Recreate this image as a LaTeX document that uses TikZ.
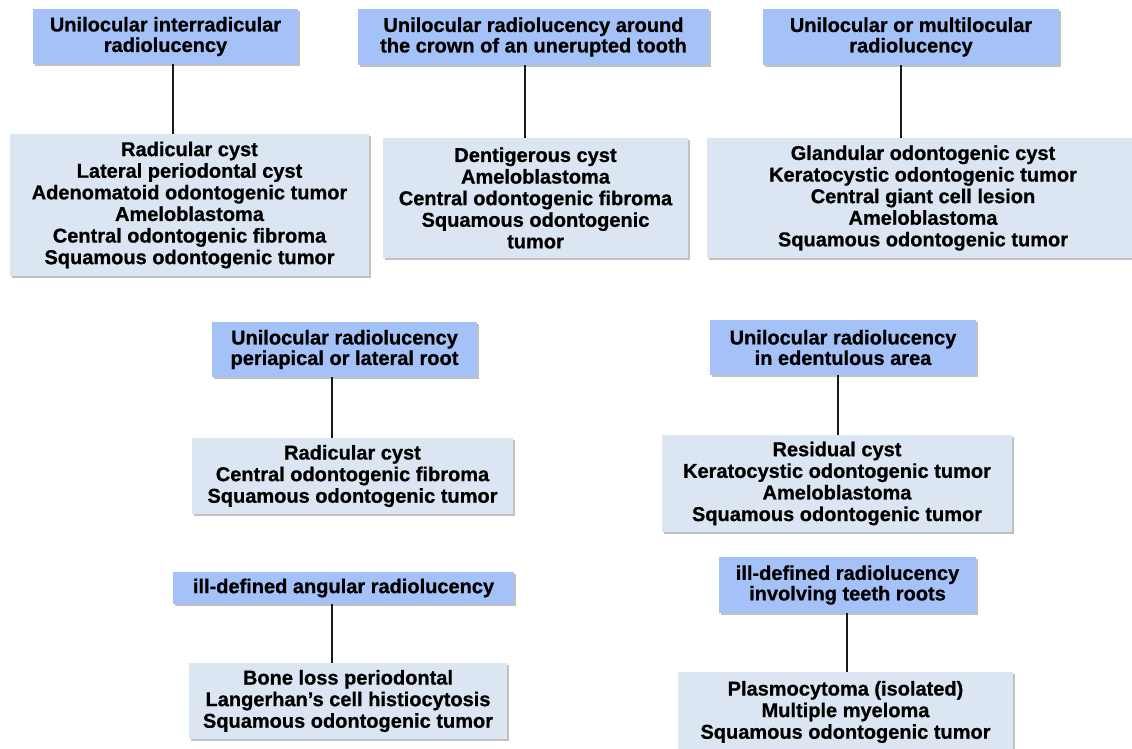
\documentclass[tikz,border=0pt]{standalone}
\usepackage{fontspec}
\setmainfont{Liberation Sans}[BoldFeatures={FakeBold=0.8}]
\usetikzlibrary{shadows}
\definecolor{hdrblue}{HTML}{A4C2F7}
\definecolor{bodyblue}{HTML}{DCE6F2}
\tikzset{
  boxbase/.style={inner sep=0pt, align=center, font=\fontsize{20}{20.5}\selectfont\bfseries,
    text=black, drop shadow={shadow xshift=1.5pt, shadow yshift=-2pt, opacity=0.35, fill=black!70}},
  hdr/.style={boxbase, fill=hdrblue},
  bodybox/.style={boxbase, fill=bodyblue, font=\fontsize{20}{21.6}\selectfont\bfseries},
  link/.style={draw=black!90, line width=1.8pt}
}
\begin{document}
\begin{tikzpicture}[x=1pt,y=1pt]
\useasboundingbox (0,0) rectangle (1132,-748);
% row 1
\node[hdr, minimum width=265pt, minimum height=55pt] (H1) at (165.5,-36.5) {Unilocular interradicular\\radiolucency};
\node[bodybox, minimum width=359pt, minimum height=142pt] (B1) at (189.5,-205) {Radicular cyst\\Lateral periodontal cyst\\Adenomatoid odontogenic tumor\\Ameloblastoma\\Central odontogenic fibroma\\Squamous odontogenic tumor};
\node[hdr, minimum width=351pt, minimum height=56pt] (H2) at (533.5,-37) {Unilocular radiolucency around\\the crown of an unerupted tooth};
\node[bodybox, minimum width=305pt, minimum height=120pt] (B2) at (535.5,-198) {Dentigerous cyst\\Ameloblastoma\\Central odontogenic fibroma\\Squamous odontogenic\\tumor};
\node[hdr, minimum width=296pt, minimum height=56pt] (H3) at (911,-37) {Unilocular or multilocular\\radiolucency};
\node[bodybox, minimum width=432pt, minimum height=120pt] (B3) at (923,-198) {Glandular odontogenic cyst\\Keratocystic odontogenic tumor\\Central giant cell lesion\\Ameloblastoma\\Squamous odontogenic tumor};
% row 2
\node[hdr, minimum width=265pt, minimum height=55pt] (H4) at (344.5,-349.5) {Unilocular radiolucency\\periapical or lateral root};
\node[bodybox, minimum width=321pt, minimum height=76pt] (B4) at (352.5,-476) {Radicular cyst\\Central odontogenic fibroma\\Squamous odontogenic tumor};
\node[hdr, minimum width=266pt, minimum height=55pt] (H5) at (843,-347.5) {Unilocular radiolucency\\in edentulous area};
\node[bodybox, minimum width=350pt, minimum height=97pt] (B5) at (837,-483.5) {Residual cyst\\Keratocystic odontogenic tumor\\Ameloblastoma\\Squamous odontogenic tumor};
% row 3
\node[hdr, minimum width=341pt, minimum height=32pt] (H6) at (343.5,-588) {ill-defined angular radiolucency};
\node[bodybox, minimum width=318pt, minimum height=76pt] (B6) at (348,-701) {Bone loss periodontal\\Langerhan’s cell histiocytosis\\Squamous odontogenic tumor};
\node[hdr, minimum width=257pt, minimum height=56pt] (H7) at (847.5,-585) {ill-defined radiolucency\\involving teeth roots};
\node[bodybox, minimum width=335pt, minimum height=80pt] (B7) at (845.5,-712) {Plasmocytoma (isolated)\\Multiple myeloma\\Squamous odontogenic tumor};
% connectors
\draw[link] ([xshift=7.5pt]H1.south) -- ([xshift=7.5pt]H1.south |- B1.north);
\draw[link] ([xshift=-8.5pt]H2.south) -- ([xshift=-8.5pt]H2.south |- B2.north);
\draw[link] ([xshift=-10pt]H3.south) -- ([xshift=-10pt]H3.south |- B3.north);
\draw[link] ([xshift=-12.5pt]H4.south) -- ([xshift=-12.5pt]H4.south |- B4.north);
\draw[link] ([xshift=-5pt]H5.south) -- ([xshift=-5pt]H5.south |- B5.north);
\draw[link] ([xshift=-11.5pt]H6.south) -- ([xshift=-11.5pt]H6.south |- B6.north);
\draw[link] ([xshift=-0.5pt]H7.south) -- ([xshift=-0.5pt]H7.south |- B7.north);
\end{tikzpicture}
\end{document}
